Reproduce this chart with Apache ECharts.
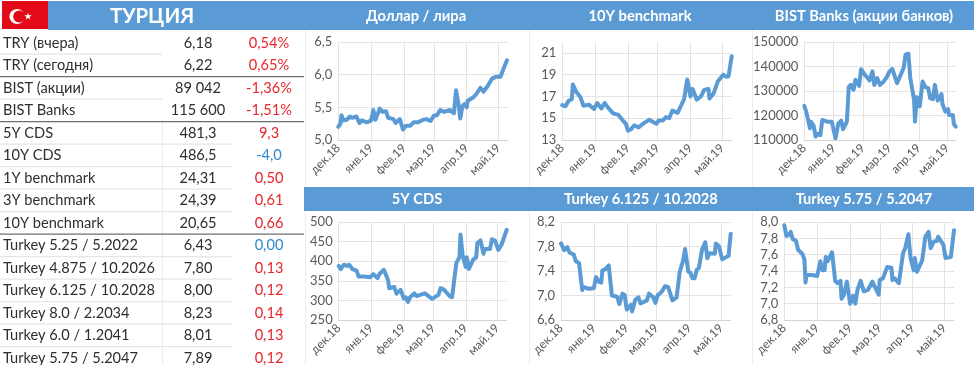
<!DOCTYPE html>
<html><head><meta charset="utf-8">
<style>html,body{margin:0;padding:0;background:#fff}#c{width:974px;height:365px}</style>
<script src="https://cdn.jsdelivr.net/npm/echarts@6/dist/echarts.min.js"></script>
</head><body><div id="c"></div>
<script>
// ---------- table ----------
const rowNames=['TRY (вчера)','TRY (сегодня)','BIST (акции)','BIST Banks','5Y CDS','10Y CDS','1Y benchmark','3Y benchmark','10Y benchmark','Turkey 5.25 / 5.2022','Turkey 4.875 / 10.2026','Turkey 6.125 / 10.2028','Turkey 8.0 / 2.2034','Turkey 6.0 / 1.2041','Turkey 5.75 / 5.2047'];
const rowValues=['6,18','6,22','89 042','115 600','481,3','486,5','24,31','24,39','20,65','6,43','7,80','8,00','8,23','8,01','7,89'];
const rowChanges=['0,54%','0,65%','-1,36%','-1,51%','9,3','-4,0','0,50','0,61','0,66','0,00','0,13','0,12','0,14','0,13','0,12'];
const rowChangeIsBlue=[5,9];
const heavyRuleAfter=[1,3,8];
// ---------- x axis ----------
const monthStartDays=[0,31,62,90,121,151];
const monthLabels=['дек.18','янв.19','фев.19','мар.19','апр.19','май.19'];
const lastDay=160;
// ---------- series: days since 1 Dec 2018, and values ----------
const usdDays=[0,2,3,5,8,11,13,17,20,22,27,31,33,35,39,42,45,47,52,54,58,61,64,68,71,75,80,83,87,90,93,96,100,105,109,111,113,115,117,119,121,122,127,130,134,137,141,145,149,153,156,159];
const usdVals=[5.2,5.25,5.38,5.3,5.31,5.36,5.34,5.36,5.26,5.3,5.27,5.3,5.46,5.31,5.48,5.43,5.44,5.34,5.32,5.26,5.32,5.16,5.22,5.22,5.27,5.27,5.31,5.32,5.29,5.37,5.38,5.46,5.43,5.46,5.41,5.76,5.58,5.33,5.52,5.55,5.5,5.6,5.65,5.7,5.8,5.74,5.83,5.94,5.97,5.97,6.1,6.22];
const y10Days=[0,3,6,9,10,13,17,20,25,30,33,37,40,43,48,53,58,60,62,65,68,72,77,82,89,91,95,98,101,104,109,115,118,121,123,127,131,134,138,139,143,147,152,155,157,160];
const y10Vals=[16.2,16.1,16.6,16.75,18.1,17.45,16.95,16.15,16.25,15.85,16.4,15.9,16.4,16,15.45,15.3,14.7,14.5,13.85,14,14.35,14.15,14.55,14.85,14.5,14.8,14.8,15.1,15,15.7,15.5,16.75,18.55,17,17.7,16.7,17,17.6,17.7,16.8,17.3,18.4,19,18.8,18.85,20.7];
const bankDays=[0,2,6,7,10,12,14,17,19,24,29,31,33,36,39,41,45,47,49,52,54,58,60,64,67,69,72,74,77,80,84,87,90,93,98,100,105,107,110,112,116,117,119,122,125,128,131,133,136,138,141,145,146,149,152,153,157,158,160];
const bankVals=[123900,121600,114800,117500,115700,111400,112500,112000,118200,117500,117500,117900,110700,116800,117900,114400,117500,131600,132500,130500,134600,132100,138900,136600,135300,134300,138000,132500,135300,132500,133900,135600,138000,139000,133200,132500,139400,144800,145200,135300,126400,117500,127500,123700,133900,131600,131200,127100,126700,132500,126100,128700,124700,121600,122600,120200,120200,116600,115500];
const cdsDays=[0,2,5,8,10,13,17,19,24,30,33,37,39,43,47,48,53,55,59,62,64,66,68,72,74,82,89,95,97,100,106,108,112,115,116,118,121,122,124,128,131,132,135,138,139,144,146,149,152,155,160];
const cdsVals=[388,380,391,388,391,380,376,361,361,359,367,357,368,378,352,331,334,317,327,305,308,296,308,318,311,318,304,314,331,328,310,308,395,410,468,416,385,410,380,404,410,446,453,419,431,431,456,452,429,442,480];
const b28Days=[0,3,6,8,12,14,17,20,21,26,31,33,36,38,39,42,45,48,53,55,58,60,62,66,67,70,73,75,81,83,87,89,91,95,98,101,105,109,112,115,117,120,122,124,126,128,130,133,136,138,140,145,146,149,152,158,160];
const b28Vals=[7.85,7.74,7.79,7.7,7.67,7.56,7.53,7.09,7.14,7.11,7.12,7.3,7.22,7.21,7.41,7.43,7.49,7,6.98,6.86,7.03,7.01,6.77,6.85,6.74,6.93,6.97,6.87,6.92,7.03,6.97,6.88,7,7.06,7.15,7.14,6.92,6.97,7.39,7.56,7.76,7.39,7.37,7.28,7.28,7.42,7.45,7.75,7.87,7.61,7.69,7.68,7.85,7.8,7.59,7.65,8.01];
const b47Days=[0,2,4,6,8,11,13,17,19,20,21,26,27,31,34,36,38,39,41,45,48,50,53,54,56,59,62,65,67,69,72,75,79,83,89,90,93,97,101,102,104,108,112,114,117,119,122,123,125,130,131,133,136,138,141,144,145,150,152,157,160];
const b47Vals=[7.96,7.83,7.84,7.88,7.79,7.77,7.66,7.61,7.54,7.26,7.35,7.35,7.33,7.34,7.52,7.41,7.41,7.57,7.52,7.63,7.28,7.25,7.28,7.06,7.1,7.27,7,7.1,7,7.17,7.28,7.15,7.17,7.27,7.11,7.29,7.31,7.45,7.44,7.29,7.31,7.25,7.62,7.68,7.85,7.56,7.41,7.56,7.39,7.53,7.55,7.82,7.88,7.68,7.76,7.77,7.82,7.72,7.56,7.57,7.9];

const panels=[
 {title:'Доллар / лира',cx:416,days:usdDays,vals:usdVals,l:338.3,r:508,t:42,b:140,min:5,max:6.5,step:.5,d:1,open:false},
 {title:'10Y benchmark',cx:640,days:y10Days,vals:y10Vals,l:562.3,r:731.7,t:42,b:140,min:13,max:22,step:2,d:0,open:true},
 {title:'BIST Banks (акции банков)',cx:864,days:bankDays,vals:bankVals,l:804.3,r:955.7,t:42,b:140,min:110000,max:150000,step:10000,d:0,open:false},
 {title:'5Y CDS',cx:417,days:cdsDays,vals:cdsVals,l:338.7,r:506.7,t:222,b:320,min:250,max:500,step:50,d:0,open:false},
 {title:'Turkey 6.125 / 10.2028',cx:641,days:b28Days,vals:b28Vals,l:561,r:730.7,t:222,b:320,min:6.6,max:8.2,step:.4,d:1,open:false},
 {title:'Turkey 5.75 / 5.2047',cx:864,days:b47Days,vals:b47Vals,l:784.3,r:954,t:222,b:320,min:6.8,max:8,step:.2,d:1,open:false}
];
const FONT='Lato, "Open Sans", sans-serif';
const BLUE='#5b9bd5',INK='#2e2e2e',RED='#e8262c',SKY='#2f8ad2',GRID='#e3e3e3',LAB='#595959';
const g=[];
const rect=(x,y,w,h,fill)=>g.push({type:'rect',silent:true,shape:{x,y,width:w,height:h},style:{fill}});
const text=(x,y,t,o)=>g.push({type:'text',silent:true,x,y,style:Object.assign({text:t,font:'14.6px '+FONT,fill:INK,textAlign:'left',textVerticalAlign:'middle'},o)});
// headers
rect(48,1,926,29,BLUE); rect(304,187,670,24,BLUE);
// flag
rect(2,1,46,28,'#e30a17');
g.push({type:'circle',silent:true,shape:{cx:17,cy:16.5,r:7.6},style:{fill:'#fff'}});
g.push({type:'circle',silent:true,shape:{cx:19.2,cy:16.5,r:6},style:{fill:'#e30a17'}});
const starPts=[];for(let i=0;i<10;i++){const a=-Math.PI/2+i*Math.PI/5,r=i%2?1.6:3.8;starPts.push([28+r*Math.cos(a),16.5+r*Math.sin(a)]);}
g.push({type:'polygon',silent:true,shape:{points:starPts},style:{fill:'#fff'}});
text(152,16,'ТУРЦИЯ',{font:'bold 20.5px '+FONT,fill:'#fff',textAlign:'center'});
// panel frames
[305,529,752].forEach(x=>{rect(x,30,1,157,'#ececec');rect(x,211,1,154,'#ececec');});
// table
rect(162,120,1,245,'#ececec');
rowNames.forEach((n,i)=>{
  const y=43+i*22.5;
  text(3,y,n,{});
  text(198,y,rowValues[i],{textAlign:'center'});
  text(269,y,rowChanges[i],{textAlign:'center',fill:rowChangeIsBlue.includes(i)?SKY:RED});
  const ly=y+10.5;
  if(heavyRuleAfter.includes(i)) rect(0,ly,304,1.3,'#6e6e6e');
  else if(i<14) rect(0,ly,i<3?162:232,1.2,'#e6e6e6');
});
// chart titles
panels.forEach((p,i)=>text(p.cx,i<3?16:199,p.title,{font:'bold 14.7px '+FONT,fill:'#fff',textAlign:'center'}));

const option={
 animation:false,backgroundColor:'#fff',graphic:{elements:g},
 grid:panels.map(p=>({left:p.l,top:p.t,width:p.r-p.l,height:p.b-p.t,containLabel:false})),
 xAxis:panels.map((p,i)=>({type:'value',gridIndex:i,min:0,max:lastDay,
   axisLine:{show:true,onZero:false,lineStyle:{color:'#d4d4d4'}},
   axisTick:{show:false,customValues:monthStartDays},
   splitLine:{show:true,lineStyle:{color:GRID}},
   axisLabel:{customValues:monthStartDays,rotate:45,margin:6,color:LAB,fontFamily:FONT,fontSize:12,
     formatter:v=>monthLabels[monthStartDays.indexOf(v)]}})),
 yAxis:panels.map((p,i)=>({type:'value',gridIndex:i,min:p.min,max:p.max,interval:p.step,
   axisLine:{show:false},axisTick:{show:false},
   splitLine:{lineStyle:{color:GRID},showMaxLine:!p.open},
   axisLabel:{margin:6,color:LAB,fontFamily:FONT,fontSize:13,showMaxLabel:!p.open,
     formatter:v=>(p.d?v.toFixed(p.d).replace('.',','):String(v))}})),
 series:panels.map((p,i)=>({type:'line',xAxisIndex:i,yAxisIndex:i,showSymbol:false,smooth:false,
   lineStyle:{color:BLUE,width:4,join:'round',cap:'round'},
   data:p.days.map((d,k)=>[d,p.vals[k]])}))
};
const chart=echarts.init(document.getElementById('c'),null,{renderer:'canvas'});
chart.setOption(option);
</script></body></html>
